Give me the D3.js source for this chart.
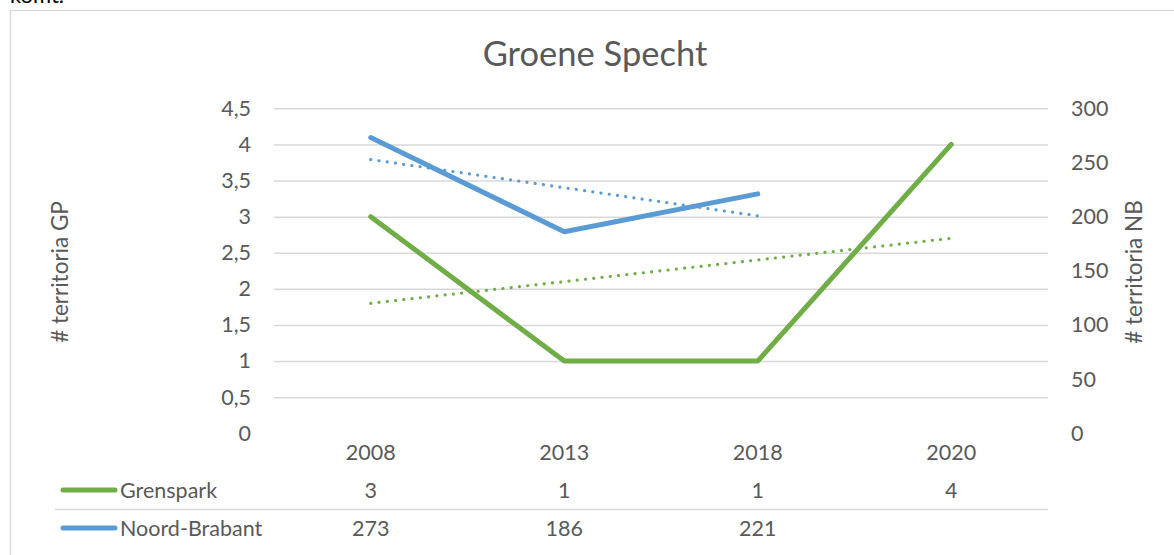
<!DOCTYPE html>
<html>
<head>
<meta charset="utf-8">
<script src="https://cdn.jsdelivr.net/npm/d3@7"></script>
<style>
  body { margin: 0; background: #fff; }
  text { font-family: Lato, "Liberation Sans", sans-serif; fill: #595959; }
</style>
</head>
<body>
<div id="chart-area"></div>
<script>
// data
let years = ["2008", "2013", "2018", "2020"];
let grenspark = [3, 1, 1, 4];
let noordBrabant = [273, 186, 221, null];
// linear trend lines (Excel), endpoints
let trendGPYears = ["2008", "2020"];
let trendGP = [1.8, 2.7];
let trendNBYears = ["2008", "2018"];
let trendNB = [252.7, 200.7];
let leftTicks = [0, 0.5, 1, 1.5, 2, 2.5, 3, 3.5, 4, 4.5];
let rightTicks = [0, 50, 100, 150, 200, 250, 300];
let seriesNames = ["Grenspark", "Noord-Brabant"];
let colors = ["#70ad47", "#5b9bd5"];

let width = 1174, height = 555;
let plot = { left: 274, right: 1048, top: 108.3, bottom: 433.3 };
let fontSize = "21.5px";

let svg = d3.select("#chart-area").append("svg")
  .attr("width", width)
  .attr("height", height);

// text above the chart, cut off by the crop
svg.append("text")
  .attr("x", 10).attr("y", 3)
  .attr("font-size", "22px")
  .style("fill", "#000")
  .text("komt.");

// chart border
svg.append("rect")
  .attr("x", 10.5).attr("y", 10.5)
  .attr("width", 1200).attr("height", 600)
  .attr("fill", "none")
  .attr("stroke", "#d9d9d9")
  .attr("stroke-width", 1.3);

let x = d3.scaleBand()
  .domain(years)
  .range([plot.left, plot.right]);
let cx = (d) => x(d) + x.bandwidth() / 2;

let yL = d3.scaleLinear().domain([0, 4.5]).range([plot.bottom, plot.top]);
let yR = d3.scaleLinear().domain([0, 300]).range([plot.bottom, plot.top]);

// gridlines (none at 0)
let grid = svg.append("g").attr("class", "grid")
  .attr("transform", "translate(" + plot.left + ",0)")
  .call(d3.axisLeft(yL).tickValues(leftTicks.filter(d => d > 0))
    .tickSize(-(plot.right - plot.left)).tickFormat(""));
grid.select(".domain").remove();
grid.selectAll("line").attr("stroke", "#d9d9d9").attr("stroke-width", 1.5);

// left axis labels
let fmt = (d) => String(d).replace(".", ",");
let axL = svg.append("g")
  .attr("transform", "translate(" + plot.left + ",0)")
  .call(d3.axisLeft(yL).tickValues(leftTicks).tickSize(0).tickPadding(23).tickFormat(fmt));
axL.select(".domain").remove();
axL.selectAll("text").attr("font-size", fontSize).attr("font-family", null).style("fill", "#595959");

// right axis labels
let axR = svg.append("g")
  .attr("transform", "translate(" + plot.right + ",0)")
  .call(d3.axisRight(yR).tickValues(rightTicks).tickSize(0).tickPadding(23));
axR.select(".domain").remove();
axR.selectAll("text").attr("font-size", fontSize).attr("font-family", null).style("fill", "#595959");

// axis titles
svg.append("text")
  .attr("transform", "translate(68,272) rotate(-90)")
  .attr("text-anchor", "middle")
  .attr("font-size", "22.5px")
  .text("# territoria GP");
svg.append("text")
  .attr("transform", "translate(1142,272) rotate(-90)")
  .attr("text-anchor", "middle")
  .attr("font-size", "22.5px")
  .text("# territoria NB");

// title
svg.append("text")
  .attr("x", 595).attr("y", 66)
  .attr("text-anchor", "middle")
  .attr("font-size", "34.5px")
  .text("Groene Specht");

// trend lines (dotted)
let trendLine = (scale) => d3.line().x(d => cx(d.year)).y(d => scale(d.v));
svg.append("path")
  .datum(trendGPYears.map((yr, i) => ({ year: yr, v: trendGP[i] })))
  .attr("d", trendLine(yL))
  .attr("fill", "none").attr("stroke", colors[0])
  .attr("stroke-width", 3.2).attr("stroke-linecap", "round")
  .attr("stroke-dasharray", "0.01 8.3");
svg.append("path")
  .datum(trendNBYears.map((yr, i) => ({ year: yr, v: trendNB[i] })))
  .attr("d", trendLine(yR))
  .attr("fill", "none").attr("stroke", colors[1])
  .attr("stroke-width", 3.2).attr("stroke-linecap", "round")
  .attr("stroke-dasharray", "0.01 8.3");

// data lines
let gpLine = d3.line().defined(d => d.v != null).x(d => cx(d.year)).y(d => yL(d.v));
let nbLine = d3.line().defined(d => d.v != null).x(d => cx(d.year)).y(d => yR(d.v));
svg.append("path")
  .datum(years.map((yr, i) => ({ year: yr, v: grenspark[i] })))
  .attr("d", gpLine)
  .attr("fill", "none").attr("stroke", colors[0])
  .attr("stroke-width", 5).attr("stroke-linecap", "round").attr("stroke-linejoin", "round");
svg.append("path")
  .datum(years.map((yr, i) => ({ year: yr, v: noordBrabant[i] })))
  .attr("d", nbLine)
  .attr("fill", "none").attr("stroke", colors[1])
  .attr("stroke-width", 5).attr("stroke-linecap", "round").attr("stroke-linejoin", "round");

// data table: category labels
svg.append("g").selectAll("text").data(years).enter()
  .append("text")
  .attr("x", d => cx(d)).attr("y", 460)
  .attr("text-anchor", "middle")
  .attr("font-size", fontSize)
  .text(d => d);

// separator line between rows
svg.append("line")
  .attr("x1", 55).attr("x2", plot.right)
  .attr("y1", 509.5).attr("y2", 509.5)
  .attr("stroke", "#d9d9d9").attr("stroke-width", 1.5);

let rows = [grenspark, noordBrabant];
let rowY = [490, 528];
rows.forEach((vals, r) => {
  let g = svg.append("g");
  g.append("line")
    .attr("x1", 63).attr("x2", 115)
    .attr("y1", rowY[r]).attr("y2", rowY[r])
    .attr("stroke", colors[r]).attr("stroke-width", 5)
    .attr("stroke-linecap", "round");
  g.append("text")
    .attr("x", 120).attr("y", rowY[r] + 7.5)
    .attr("font-size", fontSize)
    .text(seriesNames[r]);
  g.selectAll("text.val").data(years.map((yr, i) => ({ year: yr, v: vals[i] })).filter(d => d.v != null))
    .enter().append("text")
    .attr("class", "val")
    .attr("x", d => cx(d.year)).attr("y", rowY[r] + 7.5)
    .attr("text-anchor", "middle")
    .attr("font-size", fontSize)
    .text(d => d.v);
});
</script>
</body>
</html>
